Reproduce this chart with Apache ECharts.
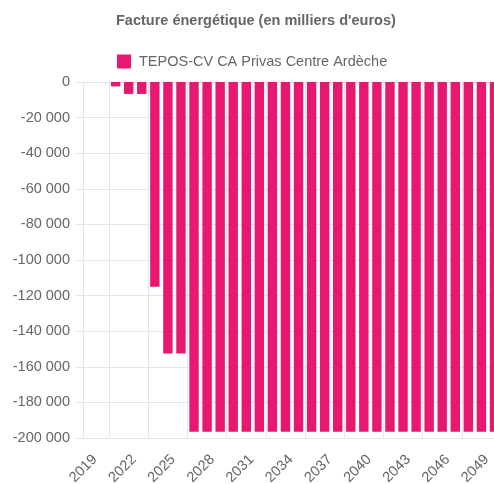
<!DOCTYPE html>
<html>
<head>
<meta charset="utf-8">
<script src="https://cdn.jsdelivr.net/npm/echarts@6/dist/echarts.min.js"></script>
<style>
  html, body { margin: 0; padding: 0; background: #fff; }
  #chart { width: 494px; height: 484px; }
</style>
</head>
<body>
<div id="chart"></div>
<script>
// years on the x axis
const years = ['2019', '2020', '2021', '2022', '2023', '2024', '2025', '2026',
    '2027', '2028', '2029', '2030', '2031', '2032', '2033', '2034',
    '2035', '2036', '2037', '2038', '2039', '2040', '2041', '2042',
    '2043', '2044', '2045', '2046', '2047', '2048', '2049', '2050'];

// facture énergétique, milliers d'euros
const facture = [0, 0, -2500, -6700, -6700, -115000, -152500, -152500,
    -196500, -196500, -196500, -196500, -196500, -196500, -196500, -196500,
    -196500, -196500, -196500, -196500, -196500, -196500, -196500, -196500,
    -196500, -196500, -196500, -196500, -196500, -196500, -196500, -196500];

const serieName = 'TEPOS-CV CA Privas Centre Ardèche';
const gridColor = '#e6e6e6';
const textColor = '#666';

const chart = echarts.init(document.getElementById('chart'));

// gridlines sit halfway between shown labels (every 3rd year)
const everyThird = (i) => i % 3 === 2;

chart.setOption({
    animation: false,
    textStyle: { fontFamily: 'Liberation Sans, Arial, sans-serif' },
    title: {
        text: "Facture énergétique (en milliers d'euros)",
        left: 111, top: 8,
        textStyle: { fontSize: 14.5, fontWeight: 'bold', color: textColor }
    },
    legend: {
        top: 49, left: 112,
        itemWidth: 14, itemHeight: 14,
        textStyle: { fontSize: 14.5, color: textColor, padding: [0, 0, 0, 3] },
        data: [{ name: serieName, icon: 'rect' }]
    },
    grid: {
        left: 83, right: -7, top: 82, bottom: 46,
        containLabel: false, outerBoundsMode: 'none'
    },
    xAxis: {
        type: 'category',
        data: years,
        boundaryGap: true,
        axisLine: { lineStyle: { color: gridColor } },
        axisTick: { show: true, length: 8, interval: everyThird, lineStyle: { color: gridColor } },
        splitLine: { show: true, interval: everyThird, lineStyle: { color: gridColor } },
        axisLabel: {
            interval: 2, rotate: 45, margin: 14, verticalAlign: 'top',
            fontSize: 14.5, color: textColor
        }
    },
    yAxis: {
        type: 'value',
        min: -200000, max: 0, interval: 20000,
        axisLine: { show: true, lineStyle: { color: gridColor } },
        axisTick: { show: true, length: 8, lineStyle: { color: gridColor } },
        splitLine: { lineStyle: { color: gridColor } },
        axisLabel: {
            margin: 13, fontSize: 14.5, color: textColor,
            formatter: (v) => String(v).replace(/\B(?=(\d{3})+(?!\d))/g, ' ')
        }
    },
    series: [{
        name: serieName,
        type: 'bar',
        data: facture,
        barCategoryGap: '28%',
        itemStyle: { color: '#e8176f' }
    }]
});
</script>
</body>
</html>
